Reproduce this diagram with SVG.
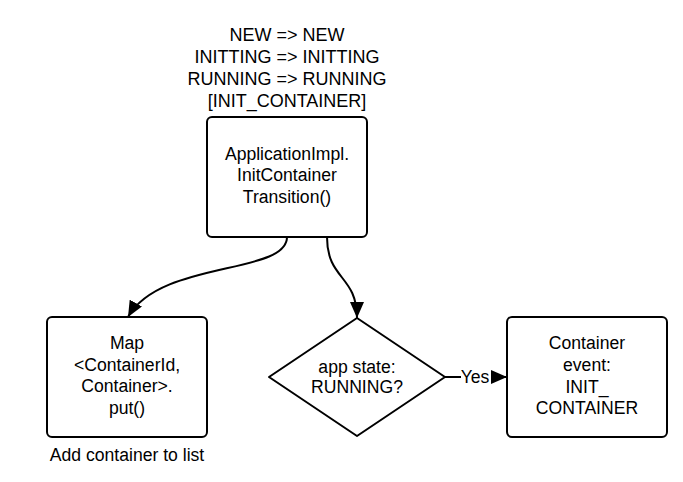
<svg xmlns="http://www.w3.org/2000/svg" width="683" height="482" viewBox="0 0 683 482">
<defs>
<style>
text{font-family:"Liberation Sans",Arial,sans-serif;font-size:17.6px;fill:#000;text-anchor:middle;dominant-baseline:central}
.box{fill:#fff;stroke:#000;stroke-width:2}
.conn{fill:none;stroke:#000;stroke-width:2}
.big{font-size:18px}
</style>
<marker id="arrow" viewBox="0 0 16 14" refX="16" refY="7" markerWidth="16" markerHeight="14" markerUnits="userSpaceOnUse" orient="auto">
<path d="M0,0 L16,7 L0,14 z" fill="#000"/>
</marker>
</defs>
<rect width="683" height="482" fill="#fff"/>
<g id="connectors">
<path class="conn" d="M287,237 C287,275 160,260 128,317" marker-end="url(#arrow)"/>
<path class="conn" d="M327,237 C327,280 357,275 357,318" marker-end="url(#arrow)"/>
<path class="conn" d="M445,377 L507,377" marker-end="url(#arrow)"/>
<rect x="461" y="368" width="30" height="18" fill="#fff"/>
<text x="475" y="377">Yes</text>
</g>
<g id="label-top">
<text class="big" x="287" y="35">NEW =&gt; NEW</text>
<text class="big" x="287" y="57">INITTING =&gt; INITTING</text>
<text class="big" x="287" y="79">RUNNING =&gt; RUNNING</text>
<text class="big" x="287" y="101">[INIT_CONTAINER]</text>
</g>
<g id="node-transition">
<rect class="box" x="207" y="117" width="160" height="120" rx="5"/>
<text x="287" y="154">ApplicationImpl.</text>
<text x="287" y="175">InitContainer</text>
<text x="287" y="197">Transition()</text>
</g>
<g id="node-map">
<rect class="box" x="47" y="317" width="160" height="120" rx="5"/>
<text x="127" y="343">Map</text>
<text x="127" y="365">&lt;ContainerId,</text>
<text x="127" y="386">Container&gt;.</text>
<text x="127" y="408">put()</text>
<text x="127" y="455">Add container to list</text>
</g>
<g id="node-decision">
<path class="box" d="M357,318 L445,377 L357,436 L269,377 Z" stroke-linejoin="round"/>
<text x="357" y="367">app state:</text>
<text x="357" y="387">RUNNING?</text>
</g>
<g id="node-event">
<rect class="box" x="507" y="317" width="160" height="120" rx="5"/>
<text x="587" y="343">Container</text>
<text x="587" y="365">event:</text>
<text x="587" y="387">INIT_</text>
<text x="587" y="408">CONTAINER</text>
</g>
</svg>
